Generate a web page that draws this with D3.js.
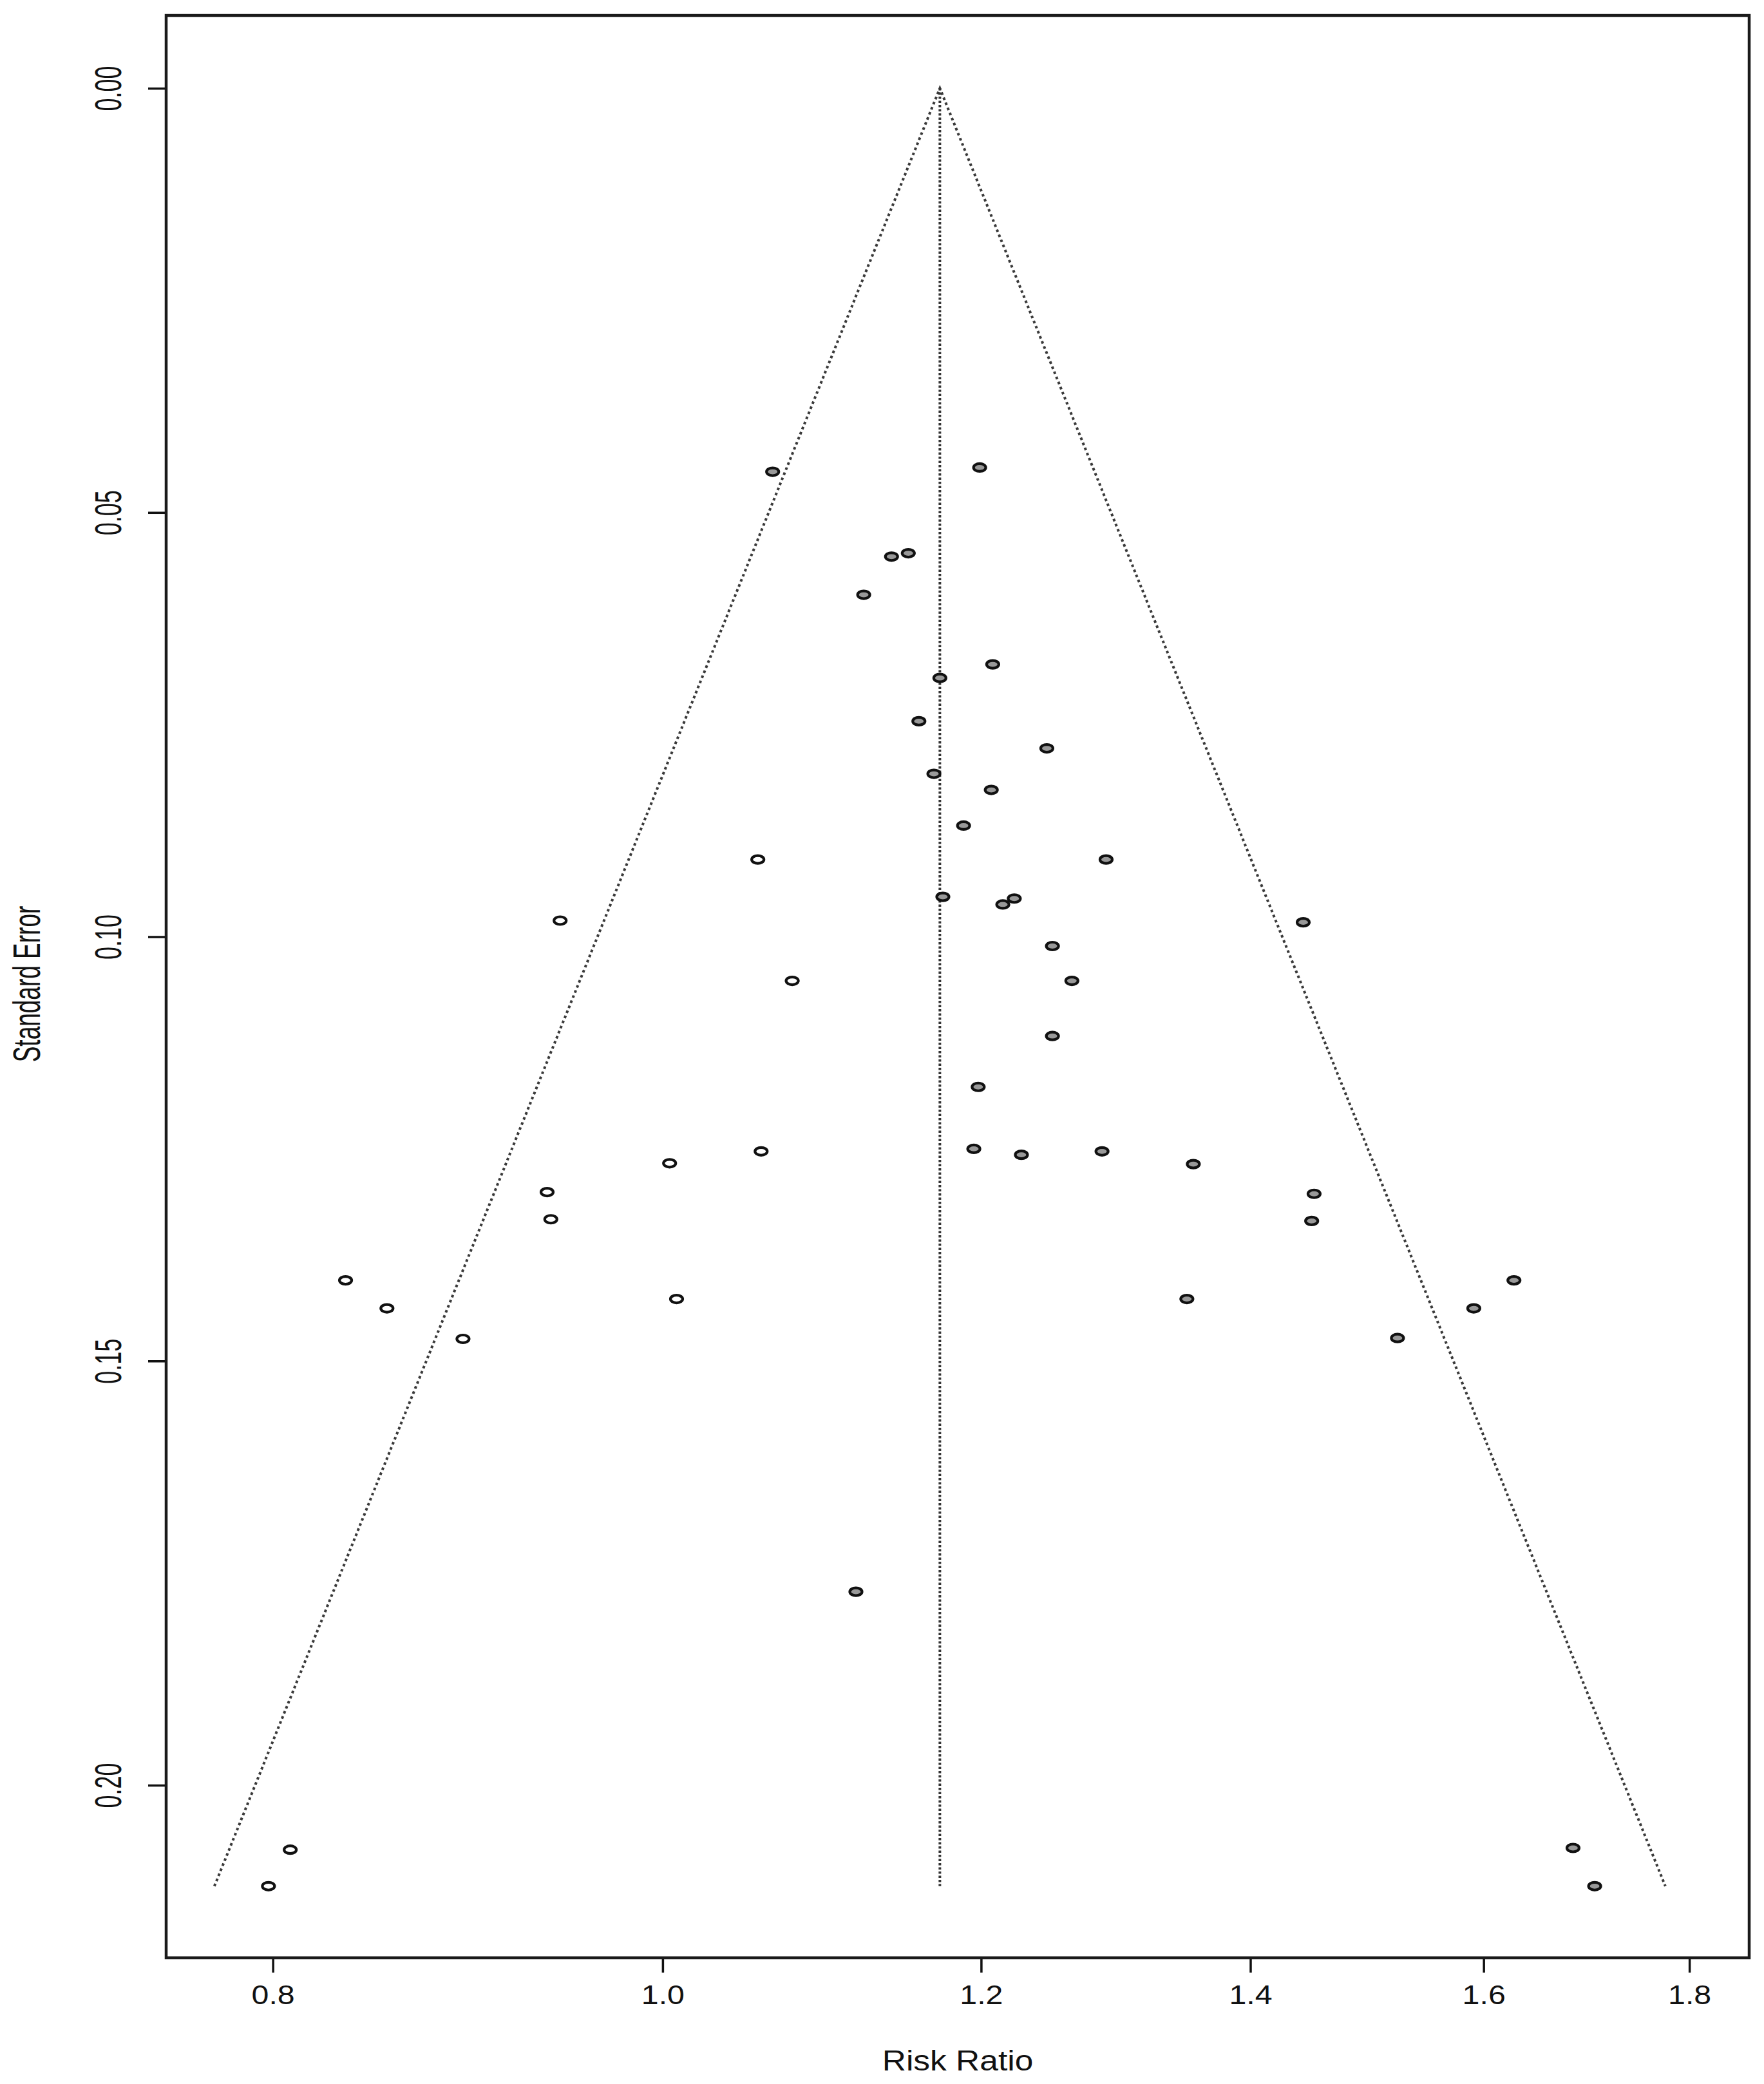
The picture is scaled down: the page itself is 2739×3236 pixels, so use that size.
<!DOCTYPE html>
<html>
<head>
<meta charset="utf-8">
<script src="https://cdn.jsdelivr.net/npm/d3@7"></script>
<style>
    body { margin: 0; background: #fff; }
    text { font-family: "Liberation Sans", Arial, sans-serif; fill: #111; }
</style>
</head>
<body>
<div id="funnel"></div>
<script>
// observed studies (risk ratio, standard error)
var obsRR = [1.065, 1.199, 1.140, 1.151, 1.122, 1.208, 1.172, 1.158, 1.246, 1.168,
    1.207, 1.188, 1.289, 1.174, 1.215, 1.223, 1.443, 1.250, 1.264, 1.250,
    1.198, 1.195, 1.228, 1.286, 1.355, 1.452, 1.450, 1.628, 1.591, 1.350,
    1.523, 1.117, 1.684, 1.705]
var obsSE = [0.0452, 0.0447, 0.0552, 0.0548, 0.0597, 0.0679, 0.0695, 0.0746, 0.0778, 0.0808,
    0.0827, 0.0869, 0.0909, 0.0953, 0.0962, 0.0955, 0.0983, 0.1011, 0.1052, 0.1117,
    0.1177, 0.1250, 0.1257, 0.1253, 0.1268, 0.1303, 0.1335, 0.1405, 0.1438, 0.1427,
    0.1473, 0.1772, 0.2074, 0.2119]

// filled (imputed) studies from trim and fill
var fillRR = [1.056, 0.943, 1.077, 1.058, 1.004, 0.936, 0.938, 0.834, 0.854, 1.008,
    0.892, 0.808, 0.798]
var fillSE = [0.0909, 0.0981, 0.1052, 0.1253, 0.1267, 0.1301, 0.1333, 0.1405, 0.1438, 0.1427,
    0.1474, 0.2076, 0.2119]

var pooledRR = 1.172
var xTicks = [0.8, 1.0, 1.2, 1.4, 1.6, 1.8]
var yTicks = [0.00, 0.05, 0.10, 0.15, 0.20]

var W = 2739, H = 3236
var box = { left: 258, right: 2716, top: 24, bottom: 3040 }

var svg = d3.select("#funnel")
    .append("svg")
    .attr("width", W)
    .attr("height", H)

var x = d3.scaleLog()
    .domain([0.7526, 1.8627])
    .range([box.left, box.right])

var y = d3.scaleLinear()
    .domain([-0.00858, 0.22034])
    .range([box.top, box.bottom])

var seMax = d3.max(obsSE.concat(fillSE))

// funnel (pseudo 95% limits) and pooled estimate
var z = 1.96
var funnel = [
    [pooledRR * Math.exp(-z * seMax), seMax],
    [pooledRR, 0],
    [pooledRR * Math.exp(z * seMax), seMax]
]
var line = d3.line().x(d => x(d[0])).y(d => y(d[1]))

svg.append("path")
    .attr("d", line(funnel))
    .attr("fill", "none")
    .attr("stroke", "#3a3a3a")
    .attr("stroke-width", 4)
    .attr("stroke-dasharray", "4,4.5")

svg.append("path")
    .attr("d", line([[pooledRR, 0], [pooledRR, seMax]]))
    .attr("fill", "none")
    .attr("stroke", "#333")
    .attr("stroke-width", 4)
    .attr("stroke-dasharray", "3.5,3")

// points
var pts = obsRR.map((d, i) => ({ rr: d, se: obsSE[i], filled: false }))
    .concat(fillRR.map((d, i) => ({ rr: d, se: fillSE[i], filled: true })))

svg.selectAll(".pt")
    .data(pts)
    .enter()
    .append("ellipse")
    .attr("class", "pt")
    .attr("cx", d => x(d.rr))
    .attr("cy", d => y(d.se))
    .attr("rx", 9.5)
    .attr("ry", 6)
    .attr("fill", d => d.filled ? "#fff" : "#999")
    .attr("stroke", "#111")
    .attr("stroke-width", 4.2)

// axes
var xAxis = svg.append("g")
    .attr("transform", "translate(0," + box.bottom + ")")
    .call(d3.axisBottom(x).tickValues(xTicks).tickSize(23).tickFormat(d3.format(".1f")))
xAxis.select(".domain").remove()
xAxis.selectAll(".tick line").attr("stroke", "#111").attr("stroke-width", 3.5)
xAxis.selectAll(".tick text")
    .attr("y", 0)
    .attr("dy", 0)
    .attr("transform", "translate(0,72) scale(1.15,1)")
    .style("font-size", "42px")
    .attr("fill", "#111")

var yAxis = svg.append("g")
    .attr("transform", "translate(" + box.left + ",0)")
    .call(d3.axisLeft(y).tickValues(yTicks).tickSize(28).tickFormat(d3.format(".2f")))
yAxis.select(".domain").remove()
yAxis.selectAll(".tick line").attr("stroke", "#111").attr("stroke-width", 3.5)
yAxis.selectAll(".tick text")
    .attr("x", 0)
    .attr("dy", "0.358em")
    .attr("text-anchor", "middle")
    .attr("transform", "translate(-91,0) scale(1.6,1) rotate(-90)")
    .style("font-size", "36px")
    .attr("fill", "#111")

// frame
svg.append("rect")
    .attr("x", box.left)
    .attr("y", box.top)
    .attr("width", box.right - box.left)
    .attr("height", box.bottom - box.top)
    .attr("fill", "none")
    .attr("stroke", "#1a1a1a")
    .attr("stroke-width", 4.5)

// labels
svg.append("text")
    .attr("text-anchor", "middle")
    .attr("dy", "0.358em")
    .attr("transform", "translate(1487,3199) scale(1.17,1)")
    .style("font-size", "44px")
    .text("Risk Ratio")

svg.append("text")
    .attr("text-anchor", "middle")
    .attr("dy", "0.358em")
    .attr("transform", "translate(41,1528) scale(1.6,1) rotate(-90)")
    .style("font-size", "37px")
    .text("Standard Error")
</script>
</body>
</html>
